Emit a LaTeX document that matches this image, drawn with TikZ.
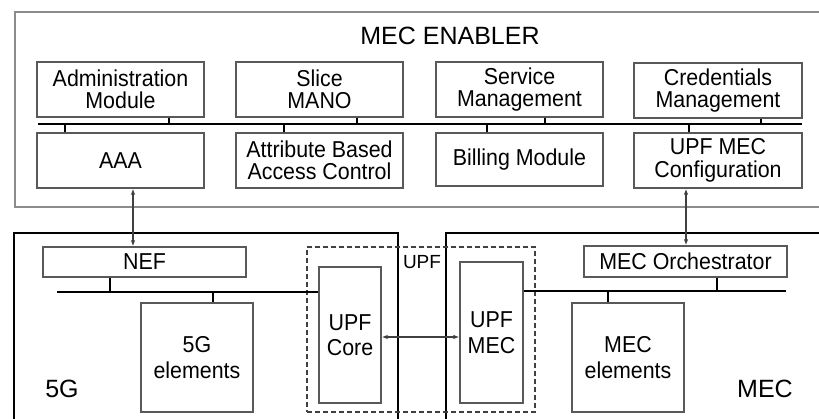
\documentclass[tikz,border=0pt]{standalone}
\usepackage{fontspec}
\setmainfont{Liberation Sans}
\newfontfamily\boxfont{Liberation Sans}[FakeStretch=0.93]
\usetikzlibrary{arrows.meta}
\begin{document}
\begin{tikzpicture}[x=1pt,y=-1pt,
  topbox/.style={draw=black!65,line width=1.3pt,inner sep=0pt,align=center,
    minimum width=167pt,minimum height=55pt,font=\boxfont\fontsize{23}{22.5}\selectfont},
  botbox/.style={draw=black!65,line width=1.3pt,inner sep=0pt,align=center,
    font=\boxfont\fontsize{23}{25.5}\selectfont},
  bus/.style={line width=2pt,black},
  tick/.style={line width=1.6pt,black},
  link/.style={line width=1.2pt,black!75,{Latex[length=6pt,width=4.5pt]}-{Latex[length=6pt,width=4.5pt]}},
  bigtext/.style={font=\fontsize{25}{25}\selectfont,inner sep=0pt},
  region/.style={draw=black,line width=2pt}
]
\useasboundingbox (0,0) rectangle (819,419);
\clip (0,0) rectangle (819,419);

% ---------- MEC ENABLER ----------
\draw[draw=black!45,line width=1.6pt] (15,12) rectangle (840,207);
\node[bigtext] (title) at (450,36) {MEC ENABLER};

\node[topbox] (adm)    at (120.5,89.5) {Administration\\Module};
\node[topbox] (slice)  at (319.5,89.5) {Slice\\MANO};
\node[topbox] (svc)    at (519.5,89.5) {Service\\Management};
\node[topbox,minimum width=168pt] (cred) at (718,90.5) {Credentials\\Management};

\node[topbox] (aaa)    at (120.5,160.5) {AAA};
\node[topbox] (abac)   at (319.5,160.5) {Attribute Based\\Access Control};
\node[topbox,minimum height=53pt] (bill) at (519.5,159.5) {Billing Module};
\node[topbox,minimum width=168pt] (upfcfg) at (718,160.5) {UPF MEC\\Configuration};

\coordinate (busL) at (38,124);
\coordinate (busR) at (802,124);
\draw[bus] (busL) -- (busR);

\draw[tick] ([xshift=48.5pt]adm.south)   -- ([xshift=48.5pt]adm.south |- busL);
\draw[tick] ([xshift=-55.5pt]aaa.north)  -- ([xshift=-55.5pt]aaa.north |- busL);
\draw[tick] ([xshift=37.5pt]slice.south) -- ([xshift=37.5pt]slice.south |- busL);
\draw[tick] ([xshift=-35.5pt]abac.north) -- ([xshift=-35.5pt]abac.north |- busL);
\draw[tick] ([xshift=25.5pt]svc.south)   -- ([xshift=25.5pt]svc.south |- busL);
\draw[tick] ([xshift=-32.5pt]bill.north) -- ([xshift=-32.5pt]bill.north |- busL);
\draw[tick] ([xshift=43pt]cred.south)    -- ([xshift=43pt]cred.south |- busL);
\draw[tick] ([xshift=-29pt]upfcfg.north) -- ([xshift=-29pt]upfcfg.north |- busL);

% ---------- 5G and MEC regions ----------
\draw[region] (14,233) rectangle (398,440);
\draw[region] (446,233) rectangle (840,440);
\node[bigtext] (lab5g)  at (62,389) {5G};
\node[bigtext] (labmec) at (765,389) {MEC};

\node[draw=black!75,line width=1.2pt,dash pattern=on 5pt off 3pt,
      minimum width=228pt,minimum height=165pt,inner sep=0pt] (upfbox) at (421,329.5) {};
\node[inner sep=0pt,font=\fontsize{19}{19}\selectfont] (upflab) at (422,262) {UPF};

\node[botbox,minimum width=203pt,minimum height=30pt] (nef)  at (144.5,262) {NEF};
\node[botbox,minimum width=203pt,minimum height=31pt] (orch) at (685.5,261.5) {MEC Orchestrator};
\node[botbox,minimum width=112pt,minimum height=109pt] (g5el)  at (197,357.5) {5G\\elements};
\node[botbox,minimum width=112pt,minimum height=109pt] (mecel) at (628,357.5) {MEC\\elements};
\node[botbox,minimum width=62pt,minimum height=136pt] (upfcore) at (350,335) {UPF\\Core};
\node[botbox,minimum width=63pt,minimum height=141pt] (upfmec)  at (491.5,332.5) {UPF\\MEC};

\coordinate (busG) at (57,292);
\coordinate (busM) at (786,291);
\draw[bus] (busG) -- (busG -| upfcore.west);
\draw[bus] (upfmec.east |- busM) -- (busM);
\draw[tick] ([xshift=-34.5pt]nef.south)  -- ([xshift=-34.5pt]nef.south |- busG);
\draw[tick] ([xshift=16pt]g5el.north)    -- ([xshift=16pt]g5el.north |- busG);
\draw[tick] ([xshift=31.5pt]orch.south)  -- ([xshift=31.5pt]orch.south |- busM);
\draw[tick] ([xshift=-20pt]mecel.north)  -- ([xshift=-20pt]mecel.north |- busM);

% ---------- connectors ----------
\draw[link] ([xshift=12.5pt]aaa.south) -- ([xshift=12.5pt]aaa.south |- nef.north);
\draw[link] ([xshift=-32pt]upfcfg.south) -- ([xshift=-32pt]upfcfg.south |- orch.north);
\draw[link] (upfcore.east |- 0,337) -- (upfmec.west |- 0,337);
\end{tikzpicture}
\end{document}
